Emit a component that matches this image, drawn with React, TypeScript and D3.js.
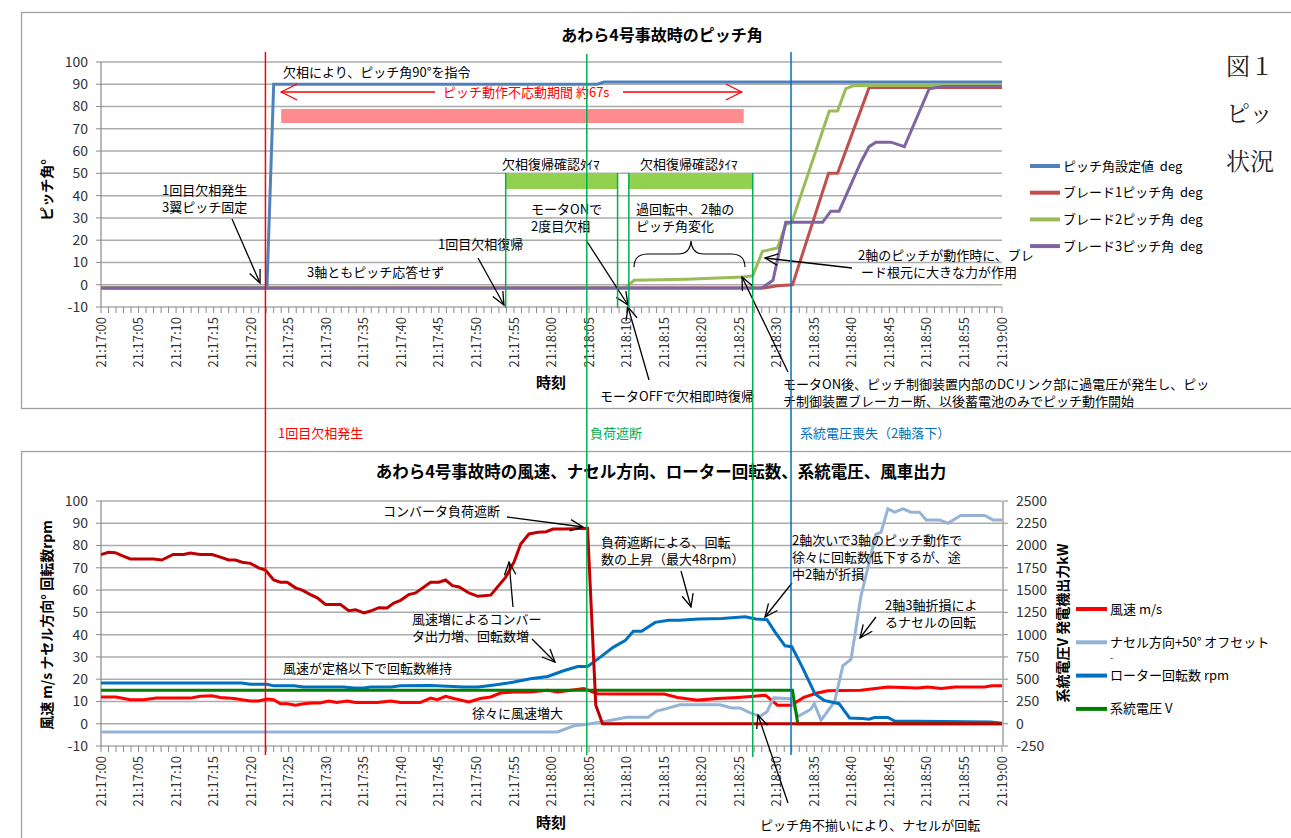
import React from "react";
import * as d3 from "d3";

const FONT = "'Noto Sans CJK JP', 'Noto Sans', sans-serif";

// time axis: seconds after 21:17:00
const START = new Date(2000, 0, 1, 21, 17, 0);
const xMajor = d3.range(0, 121, 5);
const xMinor = d3.range(0, 121, 1);
const yTicks = d3.range(-10, 101, 10);
const yRightTicks = d3.range(-250, 2501, 250);

// ---- top chart: pitch angles (deg) ----
const pitchSetpoint: [number, number][] = [
  [0, -1.5], [22.1, -1.5], [23, 90], [66.1, 90], [67, 91], [120, 91],
];
const blade1: [number, number][] = [
  [0, -1.5], [88.3, -1.5], [90.1, -0.5], [92.1, 0], [96.9, 50], [98.1, 50],
  [102.3, 88.5], [120, 88.5],
];
const blade2: [number, number][] = [
  [0, -1.5], [69.8, -1.5], [71, 2], [78, 2.5], [85.5, 3.5], [86.8, 4],
  [88.1, 15], [90.1, 16.5], [91.2, 27], [92, 28], [97, 78], [98.1, 78],
  [99.2, 88], [100.3, 89.5], [120, 89.5],
];
const blade3: [number, number][] = [
  [0, -1.5], [88, -1.5], [89.5, 2], [91.2, 28], [96.1, 28], [97.2, 33],
  [98.3, 33], [101.2, 55], [102.3, 62], [103.2, 64], [105.2, 64], [107, 62],
  [110.3, 88], [112.1, 89], [120, 89],
];

// ---- bottom chart ----
const windSpeed: [number, number][] = [
  [0, 12], [2, 12], [3.9, 10.8], [5.7, 10.8], [7.4, 11.5], [11.9, 11.5],
  [13.2, 12.3], [14.8, 12.6], [15.9, 11.8], [17.7, 11.3], [19.9, 10.2],
  [21, 10.2], [22.1, 11.1], [23, 10.8], [23.9, 9], [24.8, 9], [25.9, 8.3],
  [27, 9], [28.1, 9.3], [29.2, 9.3], [30.3, 10.2], [31.4, 9.5], [32.8, 10.2],
  [33.9, 9.5], [36.8, 9.5], [38.6, 10.2], [39.9, 9.5], [42.5, 9.5],
  [43.9, 11.5], [44.8, 10.8], [45.9, 12.3], [47, 11.3], [49, 9.8],
  [50.5, 11.3], [51.9, 12], [53.2, 13.8], [55.4, 14.3], [57.2, 14.3],
  [59.5, 15], [60.8, 14.3], [62.1, 14.8], [64.3, 15.8], [66.1, 13.5],
  [68.8, 13.3], [75, 13.3], [76.8, 11.8], [79.5, 10.6], [82.1, 11.3],
  [84.8, 11.8], [87, 12.3], [88.5, 12.8], [90.1, 8.3], [91.9, 8.3],
  [93.6, 11.8], [95.4, 13.8], [96.8, 14.8], [101.2, 15], [104.8, 16.5],
  [108.8, 16], [110.1, 16.5], [111.9, 15.8], [113.7, 16.5], [117.7, 16.5],
  [118.6, 17], [120, 17],
];
const nacelle: [number, number][] = [
  [0, -3.7], [60.8, -3.7], [63, -0.9], [64.8, -0.2], [67.4, 1.2], [70, 2.9],
  [72.9, 2.9], [74, 5.7], [75.3, 6.8], [77.1, 8.5], [82.4, 8.5], [84, 7.1],
  [85.1, 7.1], [86.4, 5], [87.8, 3.3], [88.7, 5.4], [89.6, 11.6],
  [91.9, 11.2], [92.8, 3.2], [94.5, 6.4], [95, 9], [95.9, 1.6], [97.7, 9.8],
  [98.8, 26], [99.9, 29], [101.2, 57], [103.2, 85], [103.9, 86],
  [104.8, 96.5], [105.7, 95], [106.8, 96.5], [107.9, 95], [109, 95],
  [109.9, 91.5], [111.7, 91.5], [112.8, 90], [114.5, 93.5], [117.7, 93.5],
  [118.8, 91.5], [120, 91.5],
];
const rotorRpm: [number, number][] = [
  [0, 18.3], [18.7, 18.3], [19.9, 17.7], [22.1, 17.7], [23, 17], [25.7, 17],
  [27, 16.5], [32.3, 16.5], [33.7, 16], [35, 16], [35.9, 16.5], [38.6, 16.5],
  [39.9, 17], [43.9, 17.2], [48.4, 16.5], [50.2, 16.5], [51.9, 17.2],
  [55, 18.7], [57.2, 20.2], [59.5, 21.2], [61.7, 23.9], [63.5, 25.7],
  [64.8, 25.7], [66.2, 29.1], [68.2, 34.3], [69.8, 37.3], [70.9, 41.5],
  [72, 41.5], [73.8, 45.5], [75.6, 46.5], [77, 46.5], [79.6, 47],
  [82.7, 47.3], [85.8, 48], [87.2, 47], [88.7, 46.7], [89.8, 41],
  [91.1, 35], [92, 34.6], [93.4, 25.4], [95.1, 13.4], [96.3, 10.5],
  [98.3, 9], [99.7, 2.6], [101.4, 2.3], [102.3, 2], [103, 2.8], [104.8, 2.8],
  [105.7, 1.2], [118.5, 0.8], [120, 0.2],
];
// right axis
const gridVoltage: [number, number][] = [
  [0, 375], [92.1, 375], [92.8, 0], [120, 0],
];
const generatorKw: [number, number][] = [
  [0, 1898], [1, 1925], [1.9, 1920], [2.8, 1888], [3.9, 1850], [7, 1850],
  [8.1, 1838], [9.6, 1900], [11, 1900], [11.9, 1915], [13.2, 1900],
  [14.8, 1900], [15.9, 1870], [17, 1838], [17.9, 1838], [18.8, 1813],
  [19.9, 1800], [21, 1750], [21.9, 1725], [23, 1613], [23.9, 1588],
  [24.8, 1588], [25.9, 1525], [26.8, 1500], [27.9, 1450], [28.8, 1413],
  [29.9, 1338], [31.9, 1338], [33, 1268], [33.9, 1280], [35, 1243],
  [35.9, 1265], [37, 1303], [38.1, 1300], [39, 1355], [39.9, 1385],
  [41, 1450], [41.9, 1468], [43.9, 1588], [45, 1588], [45.9, 1613],
  [46.8, 1550], [47.7, 1535], [49, 1468], [50.2, 1430], [51.9, 1443],
  [53.9, 1645], [55, 1813], [55.9, 2018], [57, 2130], [58.2, 2150],
  [59.3, 2155], [60.2, 2185], [61.7, 2185], [64.8, 2193], [65.9, 208],
  [66.8, 0], [120, 0],
];

// event times (s)
const evPhaseLoss = 21.9;
const evLoadCut = 64.7;
const evTimer2End = 86.8;
const evGridLoss = 91.9;
const timer1 = [53.9, 68.8];
const timer2 = [70.3, 86.7];
const noResponse = [24, 85.6];

const x = d3.scaleLinear().domain([0, 120]).range([101, 1002]);
const yTop = d3.scaleLinear().domain([-10, 100]).range([307, 62]);
const yBot = d3.scaleLinear().domain([-10, 100]).range([746, 501]);
const yBotR = d3.scaleLinear().domain([-250, 2500]).range([746, 501]);
const fmt = d3.timeFormat("%H:%M:%S");

const C = {
  set: "#4F81BD", b1: "#C0504D", b2: "#9BBB59", b3: "#8064A2",
  wind: "#FF0000", nac: "#95B3D7", rotor: "#0070C0", volt: "#008000", kw: "#C00000",
  grid: "#ABABAB", axis: "#8A8A8A",
};

function Arrow({ x1, y1, x2, y2 }: any) {
  const a = Math.atan2(y2 - y1, x2 - x1);
  const L = 14, s = 0.42;
  const p1 = [x2 - L * Math.cos(a - s), y2 - L * Math.sin(a - s)];
  const p2 = [x2 - L * Math.cos(a + s), y2 - L * Math.sin(a + s)];
  return (
    <g stroke="#000" strokeWidth={1.3} fill="none">
      <line x1={x1} y1={y1} x2={x2} y2={y2} />
      <polyline points={`${p1[0]},${p1[1]} ${x2},${y2} ${p2[0]},${p2[1]}`} />
    </g>
  );
}

function T({ x, y, children, fill = "#000", size = 13, weight = 400, anchor = "start" }: any) {
  return (
    <text x={x} y={y} fill={fill} fontSize={size} fontWeight={weight} textAnchor={anchor}>
      {children}
    </text>
  );
}

function Axes({ y, top }: any) {
  const [y0, y1] = y.range();
  return (
    <g>
      {yTicks.map((t) => (
        <g key={t}>
          <line x1={101} x2={1002} y1={y(t)} y2={y(t)} stroke={C.grid} strokeWidth={1.5} />
          <line x1={96} x2={101} y1={y(t)} y2={y(t)} stroke={C.axis} />
          <text x={88} y={y(t)} dy="0.35em" textAnchor="end" fontSize={14} fill="#333">{t}</text>
        </g>
      ))}
      <line x1={101} x2={101} y1={y1} y2={y0} stroke={C.axis} strokeWidth={1.2} />
      {xMinor.map((t) => (
        <line key={t} x1={x(t)} x2={x(t)} y1={y0} y2={y0 + 6} stroke={C.axis} />
      ))}
      {xMajor.map((t) => (
        <text key={t} transform={`translate(${x(t)},${y0 + 10}) rotate(-90)`} dy="0.35em"
          textAnchor="end" fontSize={13} fill="#333">
          {fmt(new Date(+START + t * 1000))}
        </text>
      ))}
      <T x={551} y={top ? 388 : 828} size={15} weight={700} anchor="middle">時刻</T>
    </g>
  );
}

export default function App() {
  const lt = d3.line<[number, number]>().x((d) => x(d[0])).y((d) => yTop(d[1]));
  const lb = d3.line<[number, number]>().x((d) => x(d[0])).y((d) => yBot(d[1]));
  const lr = d3.line<[number, number]>().x((d) => x(d[0])).y((d) => yBotR(d[1]));
  const sp = "\u00a0\u00a0";
  const topLegend = [
    { c: C.set, t: `ピッチ角設定値${sp}deg` },
    { c: C.b1, t: `ブレード1ピッチ角${sp}deg` },
    { c: C.b2, t: `ブレード2ピッチ角${sp}deg` },
    { c: C.b3, t: `ブレード3ピッチ角${sp}deg` },
  ];
  const botLegend = [
    { c: C.wind, t: "風速 m/s" },
    { c: C.nac, t: "ナセル方向+50°\u00a0オフセット" },
    { c: C.rotor, t: "ローター回転数 rpm" },
    { c: C.volt, t: "系統電圧 V" },
  ];
  return (
    <svg width={1291} height={838} style={{ position: "absolute", left: 0, top: 0, background: "#fff" }}
      fontFamily={FONT}>
      {/* frames */}
      <rect x={21.5} y={12.5} width={1300} height={396} fill="none" stroke="#A0A0A0" strokeWidth={1.3} />
      <rect x={21.5} y={451.5} width={1300} height={500} fill="none" stroke="#A0A0A0" strokeWidth={1.3} />

      {/* ===== top chart ===== */}
      <T x={662} y={41} size={16} weight={700} anchor="middle">あわら4号事故時のピッチ角</T>
      <Axes y={yTop} top />
      <text transform="translate(52,190) rotate(-90)" textAnchor="middle" fontSize={14} fontWeight={700}>ピッチ角°</text>

      <rect x={x(noResponse[0])} y={109} width={x(noResponse[1]) - x(noResponse[0])} height={14} fill="#FF8C8C" />
      <rect x={x(timer1[0])} y={173} width={x(timer1[1]) - x(timer1[0])} height={16} fill="#92D050" />
      <rect x={x(timer2[0])} y={173} width={x(timer2[1]) - x(timer2[0])} height={16} fill="#92D050" />

      <path d={lt(pitchSetpoint)!} fill="none" stroke={C.set} strokeWidth={3} />
      <path d={lt(blade1)!} fill="none" stroke={C.b1} strokeWidth={3} />
      <path d={lt(blade2)!} fill="none" stroke={C.b2} strokeWidth={3} />
      <path d={lt(blade3)!} fill="none" stroke={C.b3} strokeWidth={3} />

      {/* red double arrow */}
      <g stroke="#FF0000" strokeWidth={1.3} fill="none">
        <line x1={x(noResponse[0])} x2={435} y1={92} y2={92} />
        <line x1={623} x2={x(noResponse[1]) - 2} y1={92} y2={92} />
        <polyline points={`${x(noResponse[0]) + 16},84 ${x(noResponse[0])},92 ${x(noResponse[0]) + 16},100`} />
        <polyline points={`${x(noResponse[1]) - 18},84 ${x(noResponse[1]) - 2},92 ${x(noResponse[1]) - 18},100`} />
      </g>
      <T x={443} y={97} fill="#FF0000">ピッチ動作不応動期間 約67s</T>

      <T x={283} y={77}>欠相により、ピッチ角90°を指令</T>
      <T x={162} y={195}>1回目欠相発生</T>
      <T x={162} y={212}>3翼ピッチ固定</T>
      <Arrow x1={232} y1={219} x2={260} y2={283} />
      <T x={307} y={277}>3軸ともピッチ応答せず</T>
      <T x={438} y={249}>1回目欠相復帰</T>
      <Arrow x1={478} y1={258} x2={504} y2={305} />
      <T x={502} y={169}>欠相復帰確認ﾀｲﾏ</T>
      <T x={640} y={169}>欠相復帰確認ﾀｲﾏ</T>
      <T x={531} y={214}>モータONで</T>
      <T x={531} y={231}>2度目欠相</T>
      <Arrow x1={586} y1={240} x2={628} y2={305} />
      <T x={636} y={214}>過回転中、2軸の</T>
      <T x={636} y={231}>ピッチ角変化</T>
      <path d="M634,267 Q634,254 648,254 L678,254 Q690,254 691,241 Q692,254 704,254 L731,254 Q745,254 745,267"
        fill="none" stroke="#000" strokeWidth={1.2} />
      <Arrow x1={649} y1={380} x2={628} y2={307} />
      <T x={600} y={401}>モータOFFで欠相即時復帰</T>
      <Arrow x1={788} y1={372} x2={742} y2={277} />
      <T x={783} y={389}>モータON後、ピッチ制御装置内部のDCリンク部に過電圧が発生し、ピッ</T>
      <T x={783} y={406}>チ制御装置ブレーカー断、以後蓄電池のみでピッチ動作開始</T>
      <T x={858} y={260}>2軸のピッチが動作時に、ブレ</T>
      <T x={861} y={277}>ード根元に大きな力が作用</T>
      <Arrow x1={852} y1={268} x2={765} y2={258} />

      {topLegend.map((d, i) => (
        <g key={i} transform={`translate(0,${166 + i * 26.7})`}>
          <line x1={1030} x2={1060} stroke={d.c} strokeWidth={4} />
          <text x={1063} dy="0.35em" fontSize={13}>{d.t}</text>
        </g>
      ))}

      <g fontFamily="'Noto Serif CJK JP', 'Liberation Serif', serif" fontSize={24} fill="#222">
        <text x={1226} y={75}>図１</text>
        <text x={1226} y={122}>ピッ</text>
        <text x={1226} y={170}>状況</text>
      </g>

      {/* ===== bottom chart ===== */}
      <T x={661} y={478} size={16.5} weight={700} anchor="middle">
        あわら4号事故時の風速、ナセル方向、ローター回転数、系統電圧、風車出力
      </T>
      <Axes y={yBot} />
      <line x1={1003} x2={1003} y1={501} y2={746} stroke={C.axis} strokeWidth={1.2} />
      {yRightTicks.map((t) => (
        <g key={t}>
          <line x1={1003} x2={1008} y1={yBotR(t)} y2={yBotR(t)} stroke={C.axis} />
          <text x={1016} y={yBotR(t)} dy="0.35em" fontSize={14} fill="#333">{t}</text>
        </g>
      ))}
      <text transform="translate(52,625) rotate(-90)" textAnchor="middle" fontSize={14} fontWeight={700}>
        風速 m/s ナセル方向° 回転数rpm
      </text>
      <text transform="translate(1068,623) rotate(-90)" textAnchor="middle" fontSize={14} fontWeight={700}>
        系統電圧V 発電機出力kW
      </text>

      <path d={lb(windSpeed)!} fill="none" stroke={C.wind} strokeWidth={3} />
      <path d={lb(nacelle)!} fill="none" stroke={C.nac} strokeWidth={3} />
      <path d={lb(rotorRpm)!} fill="none" stroke={C.rotor} strokeWidth={3} />
      <path d={lr(gridVoltage)!} fill="none" stroke={C.volt} strokeWidth={3} />
      <path d={lr(generatorKw)!} fill="none" stroke={C.kw} strokeWidth={3} />

      <T x={383} y={516}>コンバータ負荷遮断</T>
      <Arrow x1={507} y1={517} x2={583} y2={527} />
      <T x={601} y={547}>負荷遮断による、回転</T>
      <T x={601} y={564}>数の上昇（最大48rpm）</T>
      <Arrow x1={681} y1={571} x2={691} y2={607} />
      <T x={792} y={545}>2軸次いで3軸のピッチ動作で</T>
      <T x={792} y={562}>徐々に回転数低下するが、途</T>
      <T x={792} y={579}>中2軸が折損</T>
      <Arrow x1={792} y1={583} x2={765} y2={617} />
      <T x={412} y={624}>風速増によるコンバー</T>
      <T x={412} y={641}>タ出力増、回転数増</T>
      <Arrow x1={513} y1={607} x2={509} y2={562} />
      <Arrow x1={532} y1={639} x2={555} y2={662} />
      <T x={283} y={673}>風速が定格以下で回転数維持</T>
      <T x={472} y={718}>徐々に風速増大</T>
      <T x={760} y={830}>ピッチ角不揃いにより、ナセルが回転</T>
      <Arrow x1={788} y1={803} x2={758} y2={715} />
      <T x={885} y={610}>2軸3軸折損によ</T>
      <T x={885} y={627}>るナセルの回転</T>
      <Arrow x1={876} y1={617} x2={860} y2={638} />

      {botLegend.map((d, i) => (
        <g key={i} transform={`translate(0,${609 + i * 33.3})`}>
          <line x1={1076} x2={1107} stroke={d.c} strokeWidth={4} />
          <text x={1110} dy="0.35em" fontSize={13}>{d.t}</text>
        </g>
      ))}
      <T x={1110} y={661} size={9}>-</T>

      {/* event lines */}
      <line x1={x(evPhaseLoss)} x2={x(evPhaseLoss)} y1={52} y2={755} stroke="#FF0000" strokeWidth={1.5} />
      <line x1={x(evLoadCut)} x2={x(evLoadCut)} y1={54} y2={755} stroke="#00B050" strokeWidth={1.5} />
      <line x1={x(evTimer2End)} x2={x(evTimer2End)} y1={173} y2={757} stroke="#00B050" strokeWidth={1.5} />
      <line x1={x(evGridLoss)} x2={x(evGridLoss)} y1={52} y2={755} stroke="#0070C0" strokeWidth={1.5} />
      {[timer1[0], timer1[1], timer2[0]].map((t) => (
        <line key={t} x1={x(t)} x2={x(t)} y1={173} y2={308} stroke="#00B050" strokeWidth={1.5} />
      ))}
      <T x={278} y={438} fill="#FF0000">1回目欠相発生</T>
      <T x={590} y={438} fill="#00B050">負荷遮断</T>
      <T x={800} y={438} fill="#0070C0">系統電圧喪失（2軸落下）</T>
    </svg>
  );
}
